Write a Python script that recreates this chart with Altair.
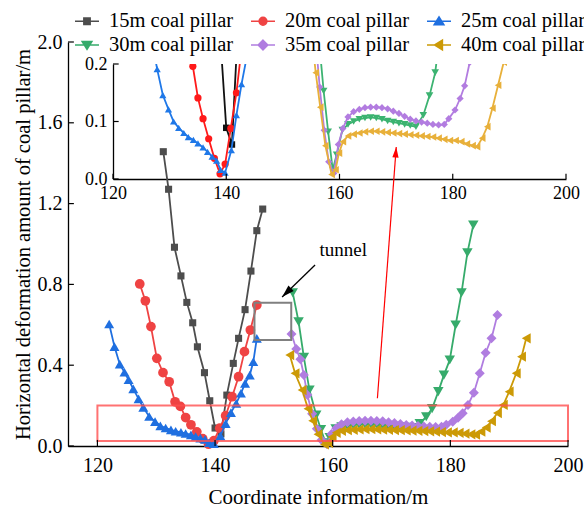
import math
import altair as alt
import pandas as pd

FONT = "Liberation Serif"

# ---------------- data ----------------
series_names = ["15m coal pillar", "20m coal pillar", "25m coal pillar",
                "30m coal pillar", "35m coal pillar", "40m coal pillar"]

s15_x = [131.2, 132.1, 133.1, 134.2, 135.2, 136.2, 137.0, 138.2, 139.1, 140.0,
         141.0, 142.0, 143.1, 144.0, 145.1, 146.1, 147.1, 148.1]
s15_y = [1.457, 1.271, 0.984, 0.842, 0.711, 0.610, 0.491, 0.363, 0.224, 0.089,
         0.060, 0.252, 0.409, 0.533, 0.675, 0.866, 1.066, 1.173]

s20_x = [127.2, 128.15, 129.1, 130.1, 131.15, 132.2, 133.2, 134.1, 135.0, 135.9,
         136.9, 137.9, 138.9, 139.8, 140.8, 141.8, 142.9, 144.0, 145.0, 146.0, 147.1]
s20_y = [0.802, 0.719, 0.591, 0.434, 0.363, 0.318, 0.219, 0.196, 0.141, 0.105,
         0.070, 0.036, 0.009, 0.026, 0.088, 0.150, 0.244, 0.343, 0.467, 0.574, 0.698]

s25_x = [122.0, 122.9, 123.8, 124.6, 125.3, 126.1, 127.0, 127.8, 128.8, 129.8,
         130.7, 131.6, 132.5, 133.3, 134.2, 135.0, 135.9, 136.7, 137.5, 138.3,
         139.0, 139.8, 140.9, 141.8, 142.7, 143.6, 144.4, 145.1, 145.9, 146.5, 147.1]
s25_y = [0.604, 0.492, 0.405, 0.365, 0.328, 0.283, 0.233, 0.191, 0.146, 0.121,
         0.100, 0.089, 0.080, 0.073, 0.068, 0.062, 0.055, 0.047, 0.039, 0.032,
         0.016, 0.011, 0.050, 0.111, 0.165, 0.211, 0.261, 0.310, 0.351, 0.417, 0.533]

s30_x = [153.2, 154.2, 155.1, 156.05, 157.2, 158.0, 158.8, 159.5, 160.5, 161.5,
         162.5, 163.5, 164.5, 165.5, 166.5, 167.5, 168.5, 169.5, 170.5, 171.5,
         172.5, 173.5, 174.8, 175.9, 176.9, 177.95, 178.9, 179.9, 180.9, 181.9, 182.9, 183.9]
s30_y = [0.759, 0.615, 0.439, 0.277, 0.153, 0.082, 0.016, 0.042, 0.085, 0.095,
         0.100, 0.104, 0.106, 0.107, 0.106, 0.104, 0.101, 0.099, 0.097, 0.095,
         0.093, 0.091, 0.111, 0.145, 0.185, 0.269, 0.351, 0.426, 0.599, 0.759, 0.957, 1.094]

s35_x = [153.0, 153.8, 154.5, 155.1, 155.7, 156.5, 157.3, 158.1, 159.0, 159.8,
         160.6, 161.5, 162.5, 163.5, 164.5, 165.5, 166.5, 167.5, 168.5, 169.5,
         170.5, 171.5, 172.5, 173.5, 174.5, 175.5, 176.5, 177.5, 178.5, 179.3,
         180.4, 181.3, 182.1, 183.0, 184.0, 185.0, 186.0, 187.0, 188.0]
s35_y = [0.554, 0.480, 0.430, 0.351, 0.252, 0.160, 0.085, 0.030, 0.010, 0.060,
         0.088, 0.108, 0.117, 0.121, 0.124, 0.125, 0.125, 0.124, 0.122, 0.118,
         0.114, 0.109, 0.104, 0.101, 0.099, 0.097, 0.095, 0.094, 0.095, 0.105,
         0.120, 0.140, 0.162, 0.203, 0.264, 0.360, 0.462, 0.533, 0.649]

s40_x = [152.7, 153.6, 154.8, 155.8, 156.6, 157.5, 158.6, 159.3, 159.9, 160.6,
         161.5, 162.5, 163.5, 164.5, 165.5, 166.5, 167.5, 168.5, 169.5, 170.5,
         171.5, 172.5, 173.5, 174.5, 175.5, 176.5, 177.5, 178.5, 179.5, 180.5,
         181.5, 182.5, 183.5, 184.3, 185.2, 186.1, 187.0, 188.0, 189.0, 190.0,
         191.2, 192.1, 192.9]
s40_y = [0.450, 0.360, 0.277, 0.185, 0.125, 0.058, 0.008, 0.016, 0.045, 0.065,
         0.075, 0.078, 0.080, 0.082, 0.083, 0.083, 0.082, 0.081, 0.080, 0.079,
         0.078, 0.077, 0.076, 0.075, 0.074, 0.073, 0.071, 0.069, 0.067, 0.067,
         0.065, 0.061, 0.058, 0.056, 0.071, 0.091, 0.123, 0.163, 0.203, 0.269,
         0.360, 0.442, 0.533]

x_ticks_main = [120, 140, 160, 180, 200]
y_ticks_main = [0.0, 0.4, 0.8, 1.2, 1.6, 2.0]
x_ticks_inset = [120, 140, 160, 180, 200]
y_ticks_inset = [0.0, 0.1, 0.2]

# annotations (data units)
red_box_x = [120, 200]
red_box_y = [0.025, 0.2]
tunnel_box_x = [146.7, 152.95]
tunnel_box_y = [0.525, 0.709]
red_arrow_x = [167.6, 170.8]
red_arrow_y = [0.236, 1.48]
black_arrow_x = [157.0, 151.4]
black_arrow_y = [0.896, 0.738]
tunnel_text = ["tunnel"]
tunnel_text_x = [161.8]
tunnel_text_y = [0.97]

# ---------------- styles ----------------
main_colors = ["#4d4d4d", "#ef4343", "#1f6fe0", "#36ab6b", "#b07de0", "#cc9a06"]
inset_colors = ["#111111", "#ff1a1a", "#1f78e8", "#3cb371", "#b27ce0", "#e8b03a"]
marker_shapes = ["square", "circle", "triangle-up", "triangle-down", "diamond", "triangle-left"]
main_sizes = [50, 95, 100, 110, 100, 105]
inset_sizes = [42, 52, 52, 58, 52, 58]
legend_paths = [
    "M-1,0L1,0M-0.26,-0.26L0.26,-0.26L0.26,0.26L-0.26,0.26Z",
    "M-1,0L1,0M0.32,0A0.32 0.32 0 1 1 -0.32 0A0.32 0.32 0 1 1 0.32 0Z",
    "M-1,0L1,0M0,-0.36L0.4,0.28L-0.4,0.28Z",
    "M-1,0L1,0M0,0.36L0.4,-0.28L-0.4,-0.28Z",
    "M-1,0L1,0M0,-0.4L0.4,0L0,0.4L-0.4,0Z",
    "M-1,0L1,0M-0.36,0L0.28,-0.4L0.28,0.4Z",
]
ARROW_PATH = "M0,0L-0.3,1L0.3,1Z"

W, H = 500, 404
X_MIN, X_MAX = 115, 200
Y_MIN, Y_MAX = 0, 2

series_x = [s15_x, s20_x, s25_x, s30_x, s35_x, s40_x]
series_y = [s15_y, s20_y, s25_y, s30_y, s35_y, s40_y]
rows = []
for name, xs, ys in zip(series_names, series_x, series_y):
    for i, (xv, yv) in enumerate(zip(xs, ys)):
        rows.append({"s": name, "x": xv, "y": yv, "i": i})
df = pd.DataFrame(rows)

X_MAIN = alt.Scale(domain=[X_MIN, X_MAX], nice=False, zero=False)
Y_MAIN = alt.Scale(domain=[Y_MIN, Y_MAX], nice=False, zero=False)
X_IN = alt.Scale(domain=[120, 200], range=[45, 498], nice=False, zero=False)
Y_IN = alt.Scale(domain=[0, 0.2], range=[137, 22], nice=False, zero=False)

axis_common = dict(ticks=False, grid=False, domainColor="black", domainWidth=1.3,
                   labelFont=FONT, labelColor="black", labelFlush=False,
                   titleFont=FONT, titleColor="black", titleFontWeight="normal")
AX_X_MAIN = alt.Axis(values=x_ticks_main, format="d", labelFontSize=20, labelPadding=9,
                     title="Coordinate information/m", titleFontSize=21, titlePadding=11,
                     orient="bottom", **axis_common)
AX_Y_MAIN = alt.Axis(values=y_ticks_main, format=".1f", labelFontSize=20, labelPadding=6,
                     title="Horizontal deformation amount of coal pillar/m", titleFontSize=20.5,
                     titlePadding=4, orient="left", **axis_common)
AX_X_IN = alt.Axis(values=x_ticks_inset, format="d", labelFontSize=18, labelPadding=5,
                   title=None, orient="bottom", offset=-267, **axis_common)
AX_Y_IN = alt.Axis(values=y_ticks_inset, format=".1f", labelFontSize=18, labelPadding=6,
                   title=None, orient="left", offset=-45, **axis_common)


def xy(xf, yf, xs, ys, xa, ya):
    return dict(x=alt.X(xf, scale=xs, axis=xa), y=alt.Y(yf, scale=ys, axis=ya))


def series_layers(xs, ys, xa, ya, colors, sizes, clip):
    out = []
    for name, col, shp, sz in zip(series_names, colors, marker_shapes, sizes):
        base = alt.Chart(df).transform_filter(alt.datum.s == name)
        out.append(base.mark_line(color=col, strokeWidth=1.8, clip=clip).encode(
            order=alt.Order("i:Q"), **xy("x:Q", "y:Q", xs, ys, xa, ya)))
        out.append(base.mark_point(filled=True, shape=shp, size=sz, color=col, opacity=1,
                                   clip=clip).encode(**xy("x:Q", "y:Q", xs, ys, xa, ya)))
    return out


sx = W / (X_MAX - X_MIN)
sy = H / (Y_MAX - Y_MIN)


def head_angle(xa, ya):
    dx = (xa[1] - xa[0]) * sx
    dy = -(ya[1] - ya[0]) * sy
    return math.degrees(math.atan2(dx, -dy)) % 360


# ---------------- main layers ----------------
main_layers = series_layers(X_MAIN, Y_MAIN, AX_X_MAIN, AX_Y_MAIN, main_colors, main_sizes, False)

box_df = pd.DataFrame({"x0": [red_box_x[0]], "x1": [red_box_x[1]],
                       "y0": [red_box_y[0]], "y1": [red_box_y[1]]})
main_layers.append(alt.Chart(box_df).mark_rect(fill="transparent", stroke="#ff4f4f", strokeWidth=2,
                                               strokeOpacity=0.8).encode(
    x2="x1:Q", y2="y1:Q", **xy("x0:Q", "y0:Q", X_MAIN, Y_MAIN, AX_X_MAIN, AX_Y_MAIN)))

tbox_df = pd.DataFrame({"x0": [tunnel_box_x[0]], "x1": [tunnel_box_x[1]],
                        "y0": [tunnel_box_y[0]], "y1": [tunnel_box_y[1]]})
main_layers.append(alt.Chart(tbox_df).mark_rect(fill="transparent", stroke="#808080",
                                                strokeWidth=2).encode(
    x2="x1:Q", y2="y1:Q", **xy("x0:Q", "y0:Q", X_MAIN, Y_MAIN, AX_X_MAIN, AX_Y_MAIN)))

for ax_, ay_, col, width, size in [(red_arrow_x, red_arrow_y, "#ff0000", 1.2, 440),
                                   (black_arrow_x, black_arrow_y, "#000000", 1.3, 620)]:
    seg = pd.DataFrame({"x0": [ax_[0]], "x1": [ax_[1]], "y0": [ay_[0]], "y1": [ay_[1]]})
    main_layers.append(alt.Chart(seg).mark_rule(color=col, strokeWidth=width).encode(
        x2="x1:Q", y2="y1:Q", **xy("x0:Q", "y0:Q", X_MAIN, Y_MAIN, AX_X_MAIN, AX_Y_MAIN)))
    main_layers.append(alt.Chart(seg).mark_point(shape=ARROW_PATH, filled=True, color=col, opacity=1,
                                                 size=size, angle=head_angle(ax_, ay_)).encode(
        **xy("x1:Q", "y1:Q", X_MAIN, Y_MAIN, AX_X_MAIN, AX_Y_MAIN)))

txt_df = pd.DataFrame({"t": tunnel_text, "x": tunnel_text_x, "y": tunnel_text_y})
main_layers.append(alt.Chart(txt_df).mark_text(font=FONT, fontSize=19, color="black",
                                               align="center", baseline="middle").encode(
    text="t:N", **xy("x:Q", "y:Q", X_MAIN, Y_MAIN, AX_X_MAIN, AX_Y_MAIN)))

# inward ticks for main axes
ytk = pd.DataFrame({"v": y_ticks_main, "a0": X_MIN, "a1": X_MIN + 1})
main_layers.append(alt.Chart(ytk).mark_rule(color="black", strokeWidth=1.2).encode(
    x2="a1:Q", **xy("a0:Q", "v:Q", X_MAIN, Y_MAIN, AX_X_MAIN, AX_Y_MAIN)))
xtk = pd.DataFrame({"v": x_ticks_main, "b0": 0.0, "b1": 0.03})
main_layers.append(alt.Chart(xtk).mark_rule(color="black", strokeWidth=1.2).encode(
    y2="b1:Q", **xy("v:Q", "b0:Q", X_MAIN, Y_MAIN, AX_X_MAIN, AX_Y_MAIN)))

# legend-only layer
leg = alt.Legend(title=None, orient="none", legendX=6, legendY=-34, columns=3,
                 direction="horizontal", labelFont=FONT, labelFontSize=20.5, labelColor="black",
                 symbolSize=576, symbolStrokeWidth=1.6, symbolOpacity=1, labelOffset=9,
                 columnPadding=13, rowPadding=0, padding=0, labelLimit=0)
legend_df = pd.DataFrame({"s": series_names})
main_layers.append(alt.Chart(legend_df).mark_point(filled=True, opacity=0).encode(
    fill=alt.Fill("s:N", scale=alt.Scale(domain=series_names, range=main_colors), legend=leg),
    stroke=alt.Stroke("s:N", scale=alt.Scale(domain=series_names, range=main_colors), legend=leg),
    shape=alt.Shape("s:N", scale=alt.Scale(domain=series_names, range=legend_paths), legend=leg),
))

main = alt.layer(*main_layers)

# ---------------- inset layers ----------------
inset_layers = series_layers(X_IN, Y_IN, AX_X_IN, AX_Y_IN, inset_colors, inset_sizes, True)
mask_df = pd.DataFrame({"x0": [120], "x1": [200], "y0": [0.2], "y1": [0.26]})
inset_layers.append(alt.Chart(mask_df).mark_rect(color="white", opacity=1, clip=True).encode(
    x2="x1:Q", y2="y1:Q", **xy("x0:Q", "y0:Q", X_IN, Y_IN, AX_X_IN, AX_Y_IN)))
iytk = pd.DataFrame({"v": y_ticks_inset, "a0": 120, "a1": 121})
inset_layers.append(alt.Chart(iytk).mark_rule(color="black", strokeWidth=1.2).encode(
    x2="a1:Q", **xy("a0:Q", "v:Q", X_IN, Y_IN, AX_X_IN, AX_Y_IN)))
ixtk = pd.DataFrame({"v": x_ticks_inset, "b0": 0.0, "b1": 0.009})
inset_layers.append(alt.Chart(ixtk).mark_rule(color="black", strokeWidth=1.2).encode(
    y2="b1:Q", **xy("v:Q", "b0:Q", X_IN, Y_IN, AX_X_IN, AX_Y_IN)))

inset = alt.layer(*inset_layers)

chart = alt.layer(main, inset).resolve_scale(x="independent", y="independent").properties(
    width=W, height=H,
    autosize=alt.AutoSizeParams(type="none"),
    padding={"left": 68, "top": 42, "right": 16, "bottom": 65},
).configure(font=FONT).configure_view(strokeOpacity=0)

chart.save("out.html", embed_options={"renderer": "svg", "actions": False})
